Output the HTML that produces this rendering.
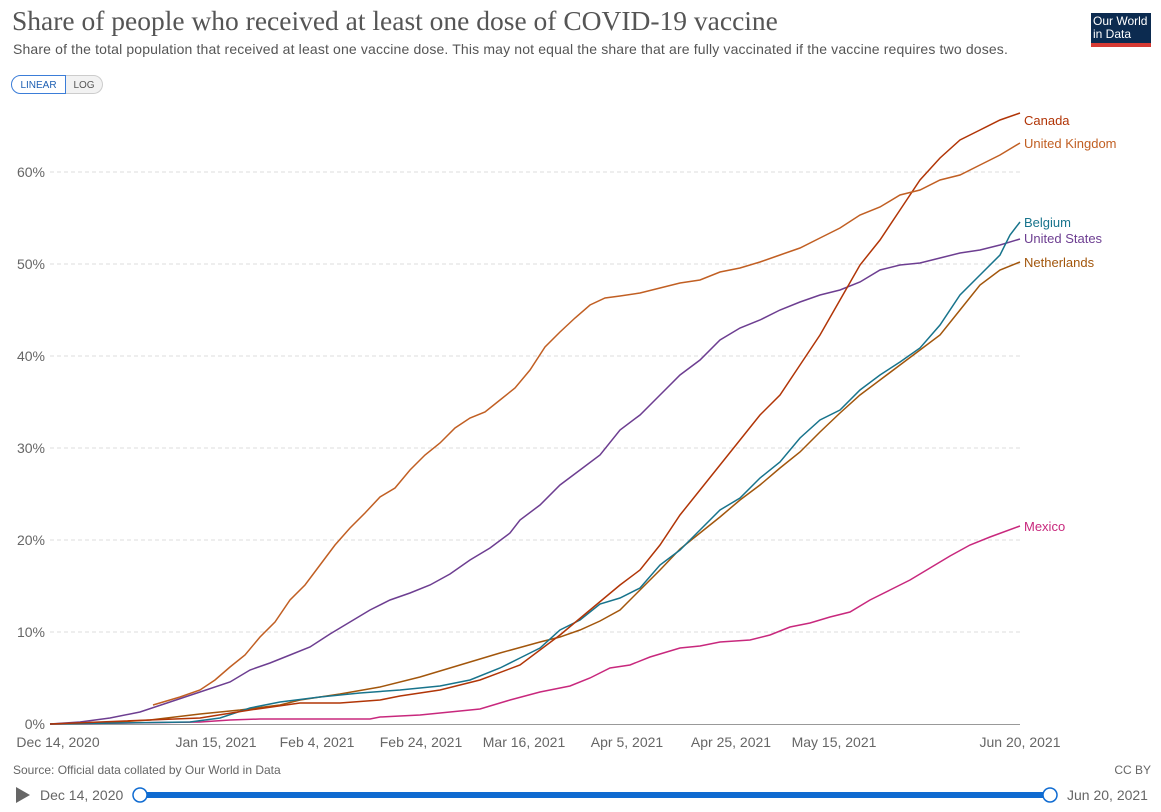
<!DOCTYPE html>
<html><head><meta charset="utf-8"><style>
body{margin:0;background:#fff;width:1161px;height:812px;overflow:hidden;font-family:"Liberation Sans",sans-serif;position:relative}
.t{position:absolute;left:12px;top:5px;font-family:"Liberation Serif",serif;font-size:27.5px;color:#555}
.s{position:absolute;left:13px;top:41px;font-size:14px;letter-spacing:0.15px;color:#555}
.logo{position:absolute;left:1091px;top:13px;width:60px;height:34px;background:#0c2b50;color:#fff;font-size:12px;line-height:13px;padding:2px 0 0 2px;box-sizing:border-box;border-bottom:4px solid #d63a33}
.btn{position:absolute;top:75px;height:19px;font-size:10px;line-height:19px;text-align:center;box-sizing:border-box}
svg{position:absolute;left:0;top:0}
</style></head><body>
<div class="t">Share of people who received at least one dose of COVID-19 vaccine</div>
<div class="s">Share of the total population that received at least one vaccine dose. This may not equal the share that are fully vaccinated if the vaccine requires two doses.</div>
<div class="logo">Our World<br>in Data</div>
<div class="btn" style="left:11px;width:55px;border:1px solid #3b7dd8;border-radius:10px 0 0 10px;color:#1d5fb3">LINEAR</div>
<div class="btn" style="left:66px;width:37px;border:1px solid #ccc;border-left:none;border-radius:0 10px 10px 0;background:#f2f2f2;color:#555">LOG</div>
<svg width="1161" height="812" font-family="Liberation Sans, sans-serif">
<g stroke="#ddd" stroke-dasharray="4,3">
<line x1="50" x2="1020" y1="632" y2="632"/><line x1="50" x2="1020" y1="540" y2="540"/><line x1="50" x2="1020" y1="448" y2="448"/><line x1="50" x2="1020" y1="356" y2="356"/><line x1="50" x2="1020" y1="264" y2="264"/><line x1="50" x2="1020" y1="172" y2="172"/>
</g>
<line x1="50" x2="1020" y1="724.5" y2="724.5" stroke="#999"/>
<g font-size="14" fill="#666" text-anchor="end">
<text x="45" y="729">0%</text><text x="45" y="637">10%</text><text x="45" y="545">20%</text><text x="45" y="453">30%</text><text x="45" y="361">40%</text><text x="45" y="269">50%</text><text x="45" y="177">60%</text>
</g>
<g font-size="14" fill="#666" text-anchor="middle">
<text x="58" y="747">Dec 14, 2020</text><text x="216" y="747">Jan 15, 2021</text><text x="317" y="747">Feb 4, 2021</text><text x="421" y="747">Feb 24, 2021</text><text x="524" y="747">Mar 16, 2021</text><text x="627" y="747">Apr 5, 2021</text><text x="731" y="747">Apr 25, 2021</text><text x="834" y="747">May 15, 2021</text><text x="1020" y="747">Jun 20, 2021</text>
</g>
<g fill="none" stroke-width="1.5">
<polyline stroke="#c8287d" points="50,724 200,722 230,720 260,719 370,719 380,717 400,716 420,715 450,712 480,709 510,700 540,692 570,686 590,678 610,668 630,665 650,657 680,648 700,646 720,642 750,640 770,635 790,627 810,623 830,617 850,612 870,600 890,590 910,580 930,568 950,556 970,545 990,537 1020,526"/>
<polyline stroke="#a2560c" points="50,724 100,723 150,720 200,714 240,710 280,705 300,700 340,694 380,687 420,677 460,665 500,653 540,642 560,637 580,630 600,621 620,610 640,590 660,570 680,549 700,533 720,517 740,500 760,485 780,468 800,452 820,432 840,413 860,395 880,380 900,365 920,350 940,335 960,310 980,285 1000,270 1020,262"/>
<polyline stroke="#6d3e91" points="50,724 80,722 110,718 140,712 170,702 200,692 230,682 250,670 270,663 290,655 310,647 330,634 350,622 370,610 390,600 410,593 430,585 450,574 470,560 490,548 510,533 520,520 540,505 560,485 580,470 600,455 620,430 640,415 660,395 680,375 700,360 720,340 740,328 760,320 780,310 800,302 820,295 840,290 860,282 880,270 900,265 920,263 940,258 960,253 980,250 1000,245 1020,239"/>
<polyline stroke="#18748c" points="50,724 190,722 220,718 250,708 280,702 320,697 360,693 400,690 440,686 470,680 500,668 520,658 540,648 560,630 580,620 600,604 620,598 640,588 660,565 680,550 700,530 720,510 740,498 760,478 780,462 800,438 820,420 840,410 860,390 880,375 900,362 920,348 940,325 960,295 980,275 1000,255 1010,235 1020,222"/>
<polyline stroke="#b13507" points="50,724 200,718 250,710 300,703 340,703 380,700 400,696 440,690 480,680 520,665 560,635 590,610 620,585 640,570 660,545 680,515 700,490 720,465 740,440 760,415 780,395 800,365 820,335 840,300 860,265 880,240 900,210 920,180 940,158 960,140 980,130 1000,120 1020,113"/>
<polyline stroke="#c15f23" points="153,705 180,697 200,690 215,680 230,667 245,655 260,637 275,622 290,600 305,585 320,565 335,545 350,528 365,513 380,497 395,488 410,470 425,455 440,443 455,428 470,418 485,412 500,400 515,388 530,370 545,347 560,332 575,318 590,305 605,298 620,296 640,293 660,288 680,283 700,280 720,272 740,268 760,262 780,255 800,248 820,238 840,228 860,215 880,207 900,195 920,190 940,180 960,175 980,165 1000,155 1020,143"/>
</g>
<g font-size="13">
<text x="1024" y="125" fill="#b13507">Canada</text>
<text x="1024" y="148" fill="#c15f23">United Kingdom</text>
<text x="1024" y="227" fill="#18748c">Belgium</text>
<text x="1024" y="243" fill="#6d3e91">United States</text>
<text x="1024" y="267" fill="#a2560c">Netherlands</text>
<text x="1024" y="531" fill="#c8287d">Mexico</text>
</g>
<text x="13" y="774" font-size="12" fill="#666">Source: Official data collated by Our World in Data</text>
<text x="1151" y="774" font-size="12" fill="#666" text-anchor="end">CC BY</text>
<polygon points="16,787 16,803 30,795" fill="#666"/>
<text x="40" y="800" font-size="14" fill="#666">Dec 14, 2020</text>
<rect x="140" y="792" width="910" height="6" fill="#0f6bd1"/>
<circle cx="140" cy="795" r="7" fill="#fff" stroke="#0f6bd1" stroke-width="1.5"/>
<circle cx="1050" cy="795" r="7" fill="#fff" stroke="#0f6bd1" stroke-width="1.5"/>
<text x="1067" y="800" font-size="14" fill="#666">Jun 20, 2021</text>
</svg>
</body></html>
